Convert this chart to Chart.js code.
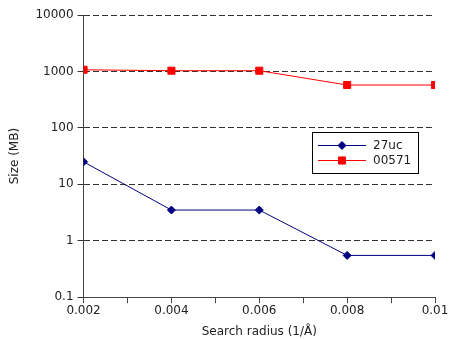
<!DOCTYPE html>
<html>
<head>
<meta charset="utf-8">
<script src="https://cdn.jsdelivr.net/npm/chart.js@4"></script>
<style>
  body { margin: 0; background: #fff; }
  #wrap { width: 450px; height: 339px; }
</style>
</head>
<body>
<div id="wrap"><canvas id="sizePlot" width="450" height="339"></canvas></div>
<script>
const radii = [0.002, 0.004, 0.006, 0.008, 0.01];
const size27uc = [25, 3.5, 3.5, 0.55, 0.55];
const size00571 = [1070, 1030, 1030, 575, 575];
const yTicks = [0.1, 1, 10, 100, 1000, 10000];
const xLabels = [0.002, 0.004, 0.006, 0.008, 0.01];

Chart.defaults.font.family = 'DejaVu Sans';
Chart.defaults.font.size = 12;
Chart.defaults.color = '#222';

// legend box drawn inside the plot, like the original
const boxLegend = {
    id: 'boxLegend',
    afterDraw(chart) {
        const ctx = chart.ctx;
        const x0 = 312, y0 = 132, w = 106, h = 41;
        ctx.save();
        ctx.fillStyle = '#fff';
        ctx.fillRect(x0, y0, w, h);
        ctx.strokeStyle = '#000';
        ctx.lineWidth = 1;
        ctx.strokeRect(x0 + 0.5, y0 + 0.5, w, h);
        chart.data.datasets.forEach((ds, i) => {
            const y = y0 + 13 + i * 15;
            ctx.strokeStyle = ds.borderColor;
            ctx.beginPath();
            ctx.moveTo(x0 + 6, y + 0.5);
            ctx.lineTo(x0 + 54, y + 0.5);
            ctx.stroke();
            Chart.helpers.drawPoint(ctx, {
                pointStyle: ds.pointStyle,
                radius: ds.pointRadius,
                borderWidth: 1
            }, x0 + 30, y + 0.5);
            ctx.fillStyle = ds.pointBackgroundColor;
            ctx.fill();
            ctx.fillStyle = '#222';
            ctx.font = '12px DejaVu Sans';
            ctx.textBaseline = 'middle';
            ctx.fillText(ds.label, x0 + 61, y + 1);
        });
        ctx.restore();
    }
};

new Chart(document.getElementById('sizePlot').getContext('2d'), {
    type: 'line',
    data: {
        datasets: [
            {
                label: '27uc',
                data: radii.map((r, i) => ({x: r, y: size27uc[i]})),
                borderColor: '#000080',
                backgroundColor: '#000080',
                pointBackgroundColor: '#000080',
                pointBorderColor: '#000080',
                pointStyle: 'rectRot',
                pointRadius: 4,
                borderWidth: 1,
                fill: false
            },
            {
                label: '00571',
                data: radii.map((r, i) => ({x: r, y: size00571[i]})),
                borderColor: '#ff0000',
                backgroundColor: '#ff0000',
                pointBackgroundColor: '#ff0000',
                pointBorderColor: '#ff0000',
                pointStyle: 'rect',
                pointRadius: 5,
                borderWidth: 1,
                fill: false
            }
        ]
    },
    options: {
        responsive: false,
        animation: false,
        layout: { padding: { top: 15, right: 15, left: 8, bottom: 0 } },
        plugins: {
            legend: { display: false },
            tooltip: { enabled: false }
        },
        scales: {
            x: {
                type: 'linear',
                min: 0.002,
                max: 0.01,
                afterBuildTicks: scale => {
                    const t = [];
                    for (let k = 2; k <= 10; k++) t.push({value: k / 1000});
                    scale.ticks = t;
                },
                ticks: {
                    color: '#222',
                    padding: 0,
                    maxRotation: 0,
                    autoSkip: false,
                    callback: v => {
                        const k = Math.round(v * 1000);
                        return k % 2 === 0 ? String(xLabels[k / 2 - 1]) : '';
                    }
                },
                grid: {
                    drawOnChartArea: false,
                    drawTicks: true,
                    tickLength: 6,
                    tickColor: '#444',
                    color: '#444'
                },
                border: { color: '#444', width: 1 },
                title: {
                    display: true,
                    text: 'Search radius (1/Å)',
                    color: '#222',
                    font: { size: 12 },
                    padding: { top: 7, bottom: 0 }
                }
            },
            y: {
                type: 'logarithmic',
                min: 0.1,
                max: 10000,
                afterBuildTicks: scale => {
                    scale.ticks = yTicks.map(v => ({value: v}));
                },
                ticks: {
                    color: '#222',
                    padding: 4,
                    callback: v => String(v)
                },
                grid: {
                    color: '#333',
                    tickColor: '#333',
                    tickLength: 6,
                    tickBorderDash: []
                },
                border: { color: '#444', width: 1, dash: [6, 3] },
                title: {
                    display: true,
                    text: 'Size (MB)',
                    color: '#222',
                    font: { size: 12 },
                    padding: { top: 0, bottom: 9 }
                }
            }
        }
    },
    plugins: [boxLegend]
});
</script>
</body>
</html>
